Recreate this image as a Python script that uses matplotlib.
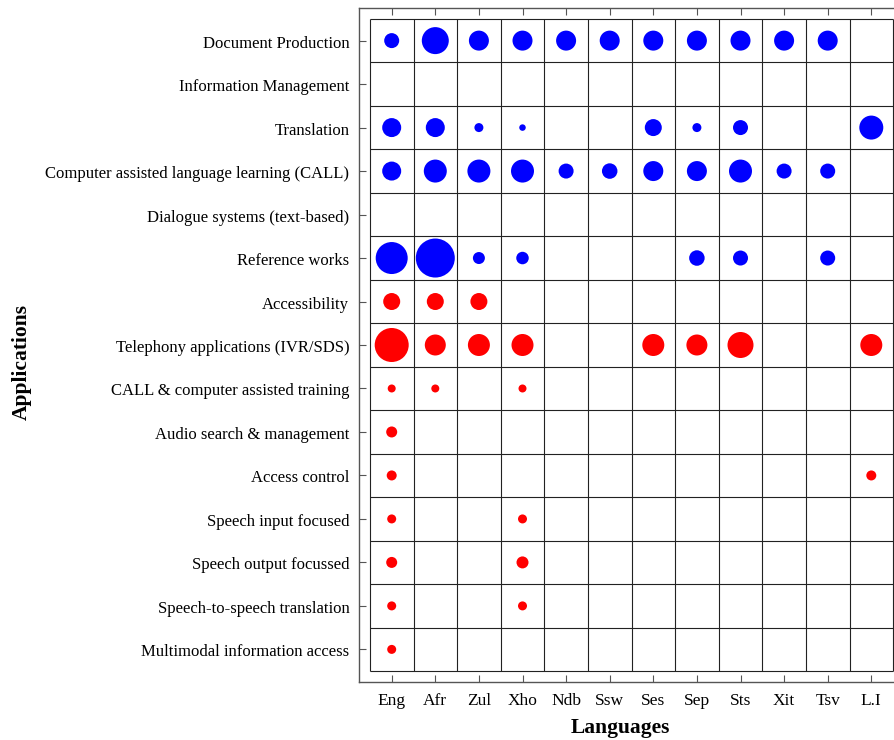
import matplotlib
matplotlib.use("Agg")
import matplotlib.pyplot as plt
import matplotlib.transforms as mtransforms
import numpy as np

languages = ["Eng", "Afr", "Zul", "Xho", "Ndb", "Ssw", "Ses", "Sep", "Sts", "Xit", "Tsv", "L.I"]
applications = [
    "Document Production",
    "Information Management",
    "Translation",
    "Computer assisted language learning (CALL)",
    "Dialogue systems (text-based)",
    "Reference works",
    "Accessibility",
    "Telephony applications (IVR/SDS)",
    "CALL & computer assisted training",
    "Audio search & management",
    "Access control",
    "Speech input focused",
    "Speech output focussed",
    "Speech-to-speech translation",
    "Multimodal information access",
]
# modality of each application row: text (blue) or speech (red)
modality = ["text"] * 6 + ["speech"] * 9

# relative magnitude per cell (0 = none), one list per application row
document_production = [15, 27, 20, 20, 20, 20, 20, 20, 20, 20, 20, 0]
information_management = [0] * 12
translation = [19, 19, 9, 6.5, 0, 0, 17, 9, 15, 0, 0, 24]
call_text = [19, 23, 23, 23, 15, 15.5, 20, 20, 23, 15, 15, 0]
dialogue_systems = [0] * 12
reference_works = [32, 39, 12, 12.5, 0, 0, 0, 15.5, 15, 0, 15, 0]
accessibility = [17, 17, 17, 0, 0, 0, 0, 0, 0, 0, 0, 0]
telephony = [34, 21, 22, 22, 0, 0, 22, 21, 26, 0, 0, 22]
call_training = [8, 8, 0, 8, 0, 0, 0, 0, 0, 0, 0, 0]
audio_search = [11, 0, 0, 0, 0, 0, 0, 0, 0, 0, 0, 0]
access_control = [10, 0, 0, 0, 0, 0, 0, 0, 0, 0, 0, 10]
speech_input = [9, 0, 0, 9, 0, 0, 0, 0, 0, 0, 0, 0]
speech_output = [11, 0, 0, 12, 0, 0, 0, 0, 0, 0, 0, 0]
speech_to_speech = [9, 0, 0, 9, 0, 0, 0, 0, 0, 0, 0, 0]
multimodal = [9, 0, 0, 0, 0, 0, 0, 0, 0, 0, 0, 0]

rows = [document_production, information_management, translation, call_text,
        dialogue_systems, reference_works, accessibility, telephony, call_training,
        audio_search, access_control, speech_input, speech_output, speech_to_speech,
        multimodal]

colour_of = {"text": "#0000ff", "speech": "#ff0000"}

plt.rcParams["font.family"] = ["Liberation Serif", "DejaVu Serif"]

W, H = 894, 740
fig = plt.figure(figsize=(W / 100, H / 100), dpi=100)
left, right, top, bottom = 359, 904, 8, 682
ax = fig.add_axes([left / W, (H - bottom) / H, (right - left) / W, (bottom - top) / H])

nx, ny = len(languages), len(applications)
ax.set_xlim(-0.75, nx - 0.25)
ax.set_ylim(ny - 0.25, -0.75)

# cell grid
ax.vlines(np.arange(nx + 1) - 0.5, -0.5, ny - 0.5, colors="#222222", linewidth=0.8, zorder=1)
ax.hlines(np.arange(ny + 1) - 0.5, -0.5, nx - 0.5, colors="#222222", linewidth=0.8, zorder=1)

px_to_pt = 0.72
for i, (vals, mod) in enumerate(zip(rows, modality)):
    vals = np.asarray(vals, dtype=float)
    xs = np.nonzero(vals)[0]
    if len(xs) == 0:
        continue
    ys = np.full(len(xs), i)
    sizes = (vals[xs] * px_to_pt) ** 2
    ax.scatter(xs, ys, s=sizes, color=colour_of[mod], edgecolors="none", zorder=3)

ax.set_xticks(np.arange(nx))
ax.set_xticklabels(languages)
ax.set_yticks(np.arange(ny))
ax.set_yticklabels(applications)

for side in ["left", "top", "bottom", "right"]:
    ax.spines[side].set_color("#555555")
    ax.spines[side].set_linewidth(1.0)

ax.tick_params(axis="x", direction="in", top=True, bottom=True, length=5, width=0.8,
               color="#555555", labelsize=12.5, pad=8)
ax.tick_params(axis="y", direction="in", left=True, right=False, length=5, width=0.8,
               color="#555555", labelsize=12.0, pad=7)
shift = mtransforms.ScaledTranslation(0, -3 / 100, fig.dpi_scale_trans)
for lbl in ax.get_yticklabels():
    lbl.set_verticalalignment("center")
    lbl.set_transform(lbl.get_transform() + shift)

fig.text(620 / W, 1 - 728 / H, "Languages", ha="center", va="center",
         fontsize=15.5, fontweight="bold")
fig.text(22 / W, 1 - 362 / H, "Applications", ha="center", va="center",
         rotation=90, fontsize=15.5, fontweight="bold")

fig.savefig("out.png", dpi=100)
